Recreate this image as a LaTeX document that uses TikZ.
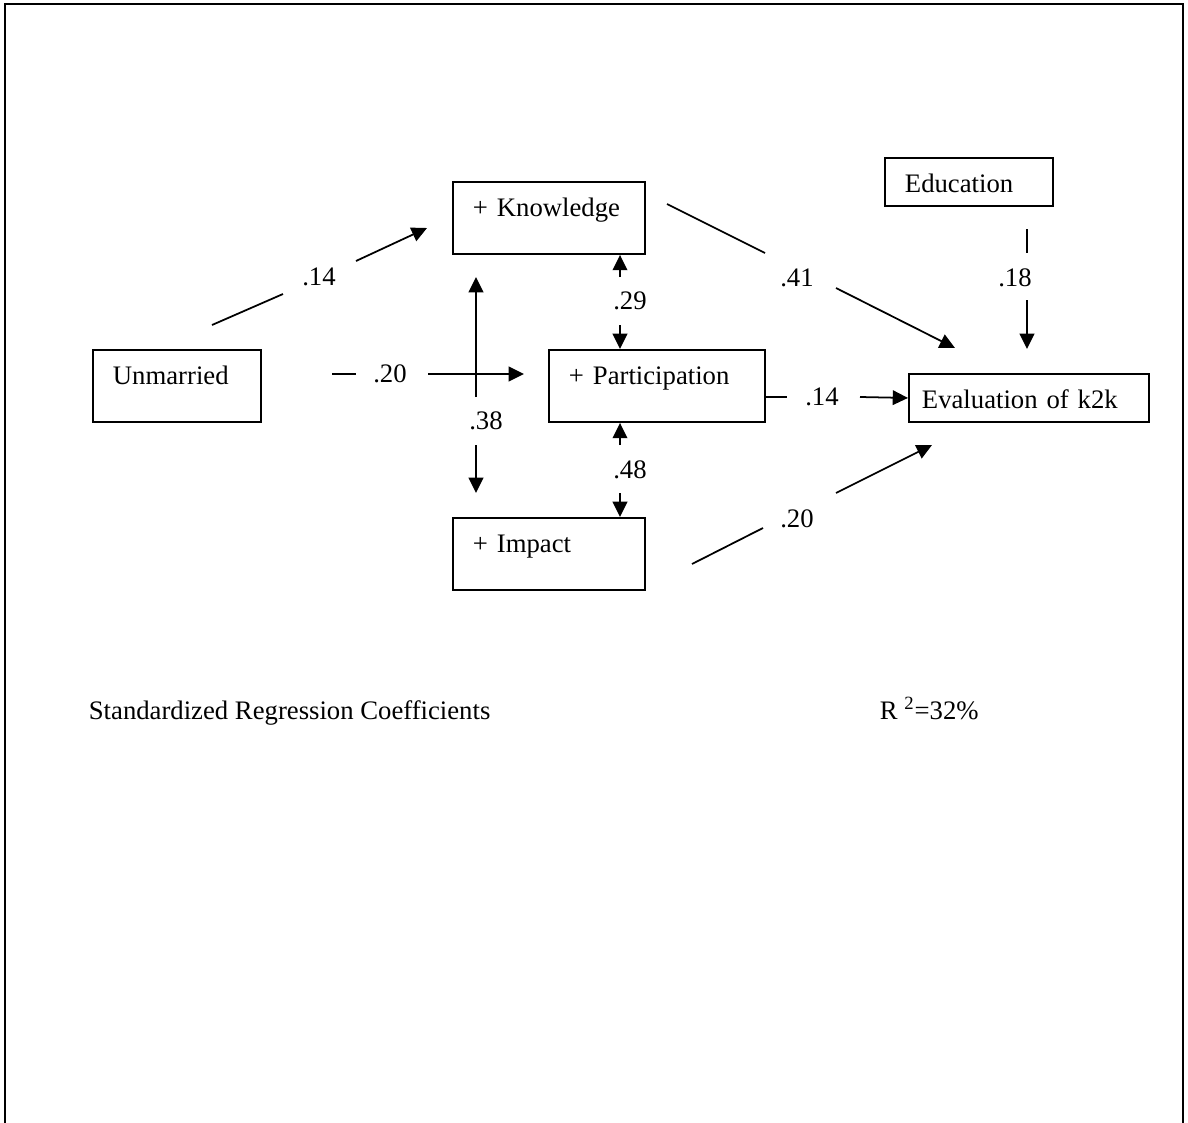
\documentclass[tikz,border=0pt]{standalone}
\usepackage{fontspec}
\setmainfont{Liberation Serif}
\usetikzlibrary{arrows.meta}

\begin{document}
\begin{tikzpicture}[x=0.02cm, y=-0.02cm,
  font=\fontsize{15.2}{18}\selectfont,
  line width=1pt,
  >={Triangle[length=8.7pt,width=8.3pt]},
  varbox/.style={draw, line width=1.1pt, anchor=north west, align=left, inner xsep=0.4cm, inner ysep=0pt, text height=0.7cm, text depth=0.74cm},
  lowbox/.style={varbox, text depth=0.26cm},
  coef/.style={inner sep=0pt}]

\useasboundingbox (0,0) rectangle (1188,1123);
\draw[line width=1.2pt] (5,1123) -- (5,4) -- (1183,4) -- (1183,1123);

\node[varbox, text width=3.04cm] (knowledge) at (452,181) {+ Knowledge};
\node[lowbox, text width=2.56cm] (education) at (884,157) {Education};
\node[varbox, text width=2.56cm] (unmarried) at (92,349) {Unmarried};
\node[varbox, text width=3.52cm] (participation) at (548,349) {+ Participation};
\node[lowbox, inner xsep=0.26cm, text width=4.28cm] (evaluation) at (908,373) {Evaluation of k2k};
\node[varbox, text width=3.04cm] (impact) at (452,517) {+ Impact};

\node[coef] (c-un-kn) at (319,277) {.14};
\node[coef] (c-un-pa) at (390,374) {.20};
\node[coef] (c-kn-im) at (486,421) {.38};
\node[coef] (c-kn-pa) at (630,301) {.29};
\node[coef] (c-pa-im) at (630,470) {.48};
\node[coef] (c-kn-ev) at (797,278) {.41};
\node[coef] (c-ed-ev) at (1015,278) {.18};
\node[coef] (c-pa-ev) at (822,397) {.14};
\node[coef] (c-im-ev) at (797,519) {.20};

\coordinate (uk1) at (212,325);
\coordinate (uk2) at (283,294);
\coordinate (uk3) at (356,261);
\coordinate (uk4) at (427,228);

\coordinate (ki1) at (476,397);
\coordinate (ki2) at (476,277);
\coordinate (ki3) at (476,445);
\coordinate (ki4) at (476,493);

\coordinate (up1) at (332,374);
\coordinate (up2) at (356,374);
\coordinate (up3) at (428,374);
\coordinate (up4) at (524,374);

\coordinate (ke1) at (667,204);
\coordinate (ke2) at (765,253);
\coordinate (ke3) at (836,288);
\coordinate (ke4) at (955,348);

\coordinate (ee1) at (1027,229);
\coordinate (ee2) at (1027,253);
\coordinate (ee3) at (1027,300);
\coordinate (ee4) at (1027,349);

\coordinate (ie1) at (692,564);
\coordinate (ie2) at (763,528);
\coordinate (ie3) at (836,493);
\coordinate (ie4) at (932,445);

\coordinate (kp1) at (620,277);
\coordinate (kp2) at (620,325);
\coordinate (pi1) at (620,445);
\coordinate (pi2) at (620,493);
\coordinate (pe1) at (787,397);
\coordinate (pe2) at (860,397);

\foreach \a/\b in {uk1/uk2, up1/up2, ke1/ke2, ee1/ee2, ie1/ie2}
\draw (\a) -- (\b);
\foreach \a/\b in {uk3/uk4, ki1/ki2, ki3/ki4, up3/up4, ke3/ke4, ee3/ee4, ie3/ie4}
\draw[->] (\a) -- (\b);

\draw[->] (kp1) -- (kp1 |- knowledge.south);
\draw[->] (kp2) -- (kp2 |- participation.north);
\draw[->] (pi1) -- (pi1 |- participation.south);
\draw[->] (pi2) -- (pi2 |- impact.north);
\draw (pe1 -| participation.east) -- (pe1);
\draw[->] (pe2) -- (evaluation.west);

\node[anchor=base west, inner sep=0pt] (note) at (88,719) {Standardized Regression Coefficients};
\node[anchor=base west, inner sep=0pt] (rsq) at (879,719) {R \textsuperscript{2}=32\%};
\end{tikzpicture}
\end{document}
